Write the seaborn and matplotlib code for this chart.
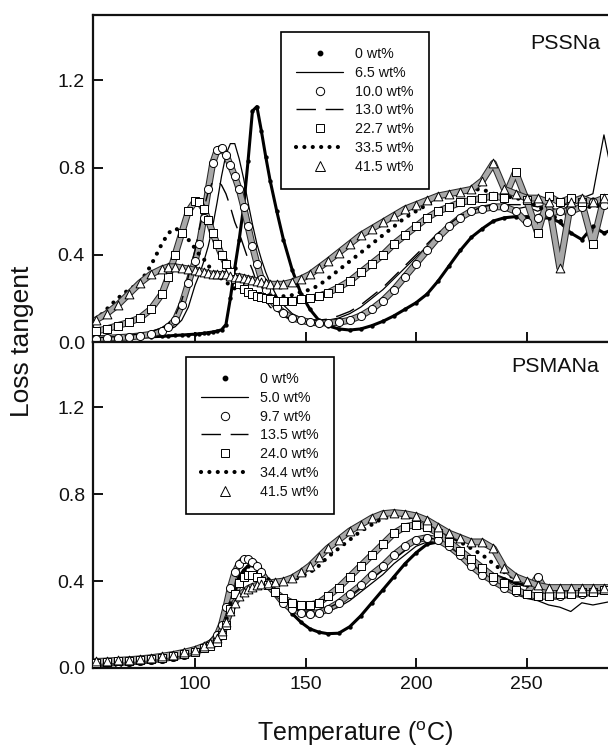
import numpy as np
import pandas as pd
import matplotlib
matplotlib.use("Agg")
import matplotlib.pyplot as plt
from matplotlib.lines import Line2D
import seaborn as sns

# ---------------- data: loss tangent vs temperature ----------------
# PSSNa panel: shared temperature grid (°C)
temp_pssna = [55, 60, 65, 70, 75, 80, 85, 88, 91, 94, 97, 100, 102, 104, 106, 108,
              110, 112, 114, 116, 118, 120, 122, 124, 126, 128, 130, 132, 134, 137,
              140, 144, 148, 152, 156, 160, 165, 170, 175, 180, 185, 190, 195, 200,
              205, 210, 215, 220, 225, 230, 235, 240, 245, 250, 255, 260, 265, 270,
              275, 280, 285, 290]

pssna_0 = [0.02, 0.02, 0.02, 0.02, 0.022, 0.024, 0.026, 0.028, 0.03, 0.032, 0.034, 0.036,
           0.038, 0.04, 0.043, 0.046, 0.05, 0.056, 0.08, 0.2, 0.34, 0.47, 0.62, 0.83, 1.06,
           1.08, 0.97, 0.85, 0.74, 0.6, 0.47, 0.33, 0.22, 0.15, 0.1, 0.075, 0.06, 0.055,
           0.06, 0.075, 0.095, 0.12, 0.15, 0.18, 0.22, 0.28, 0.35, 0.42, 0.48, 0.52, 0.555,
           0.57, 0.575, 0.575, 0.565, 0.57, 0.55, 0.5, 0.47, 0.53, 0.5, 0.52]
pssna_6_5 = [0.02, 0.02, 0.022, 0.025, 0.03, 0.035, 0.045, 0.055, 0.07, 0.1, 0.16, 0.26,
             0.31, 0.37, 0.44, 0.53, 0.64, 0.76, 0.86, 0.91, 0.91, 0.84, 0.75, 0.64, 0.54,
             0.45, 0.38, 0.32, 0.27, 0.21, 0.17, 0.13, 0.11, 0.1, 0.1, 0.1, 0.11, 0.13, 0.16,
             0.2, 0.24, 0.29, 0.34, 0.39, 0.44, 0.49, 0.53, 0.57, 0.59, 0.6, 0.61, 0.61,
             0.61, 0.62, 0.6, 0.62, 0.6, 0.63, 0.66, 0.68, 0.95, 0.7]
pssna_10_0 = [0.015, 0.017, 0.02, 0.023, 0.028, 0.035, 0.05, 0.07, 0.1, 0.17, 0.27, 0.37,
              0.45, 0.57, 0.7, 0.82, 0.88, 0.89, 0.86, 0.81, 0.76, 0.7, 0.62, 0.53, 0.44,
              0.36, 0.29, 0.24, 0.2, 0.16, 0.135, 0.11, 0.1, 0.09, 0.088, 0.088, 0.09, 0.1,
              0.12, 0.15, 0.19, 0.24, 0.3, 0.36, 0.42, 0.48, 0.53, 0.57, 0.6, 0.61, 0.62,
              0.62, 0.6, 0.55, 0.57, 0.59, 0.6, 0.6, 0.62, 0.64, 0.63, 0.62]
pssna_13_0 = [0.02, 0.022, 0.025, 0.03, 0.037, 0.047, 0.065, 0.085, 0.12, 0.19, 0.3, 0.42,
              0.52, 0.61, 0.69, 0.735, 0.74, 0.72, 0.68, 0.62, 0.55, 0.5, 0.44, 0.38, 0.33,
              0.27, 0.22, 0.19, 0.16, 0.14, 0.12, 0.105, 0.1, 0.1, 0.1, 0.105, 0.12, 0.14,
              0.17, 0.21, 0.25, 0.3, 0.35, 0.4, 0.45, 0.5, 0.54, 0.58, 0.6, 0.62, 0.63, 0.63,
              0.63, 0.63, 0.62, 0.63, 0.62, 0.64, 0.64, 0.66, 0.65, 0.64]
pssna_22_7 = [0.05, 0.06, 0.075, 0.09, 0.11, 0.15, 0.22, 0.3, 0.4, 0.5, 0.6, 0.645, 0.64,
              0.61, 0.56, 0.5, 0.45, 0.4, 0.36, 0.32, 0.29, 0.265, 0.245, 0.23, 0.22, 0.21,
              0.205, 0.2, 0.195, 0.19, 0.19, 0.19, 0.195, 0.2, 0.21, 0.225, 0.25, 0.28, 0.32,
              0.36, 0.4, 0.45, 0.49, 0.53, 0.57, 0.6, 0.62, 0.64, 0.65, 0.66, 0.67, 0.66,
              0.78, 0.65, 0.5, 0.67, 0.64, 0.66, 0.64, 0.45, 0.66, 0.64]
pssna_33_5 = [0.1, 0.15, 0.2, 0.24, 0.27, 0.35, 0.45, 0.5, 0.52, 0.51, 0.47, 0.43, 0.4,
              0.38, 0.35, 0.33, 0.31, 0.29, 0.275, 0.26, 0.245, 0.235, 0.23, 0.225, 0.22,
              0.215, 0.21, 0.21, 0.21, 0.21, 0.21, 0.215, 0.23, 0.24, 0.26, 0.29, 0.33, 0.37,
              0.41, 0.45, 0.49, 0.53, 0.57, 0.6, 0.63, 0.66, 0.68, 0.69, 0.7, 0.7, 0.68, 0.67,
              0.66, 0.65, 0.62, 0.6, 0.55, 0.6, 0.62, 0.62, 0.63, 0.63]
pssna_41_5 = [0.1, 0.13, 0.17, 0.22, 0.27, 0.31, 0.335, 0.345, 0.345, 0.34, 0.335, 0.33,
              0.325, 0.32, 0.315, 0.31, 0.31, 0.31, 0.31, 0.305, 0.3, 0.3, 0.295, 0.29,
              0.285, 0.28, 0.275, 0.27, 0.265, 0.265, 0.265, 0.275, 0.29, 0.31, 0.34, 0.37,
              0.41, 0.45, 0.49, 0.52, 0.55, 0.58, 0.61, 0.63, 0.65, 0.67, 0.68, 0.69, 0.7,
              0.74, 0.82, 0.7, 0.68, 0.66, 0.66, 0.64, 0.34, 0.64, 0.66, 0.64, 0.66, 0.65]

# PSMANa panel: shared temperature grid (°C)
temp_psmana = [55, 60, 65, 70, 75, 80, 85, 90, 95, 100, 104, 107, 110, 112, 114, 116, 118,
               120, 122, 124, 126, 128, 130, 133, 136, 140, 144, 148, 152, 156, 160, 165,
               170, 175, 180, 185, 190, 195, 200, 205, 210, 215, 220, 225, 230, 235, 240,
               245, 250, 255, 260, 265, 270, 275, 280, 285, 290]

psmana_0 = [0.02, 0.022, 0.025, 0.028, 0.032, 0.037, 0.043, 0.05, 0.06, 0.07, 0.085, 0.1,
            0.13, 0.17, 0.23, 0.3, 0.37, 0.42, 0.45, 0.47, 0.475, 0.47, 0.45, 0.41, 0.36,
            0.3, 0.25, 0.21, 0.18, 0.165, 0.158, 0.16, 0.19, 0.24, 0.3, 0.36, 0.42, 0.48,
            0.53, 0.57, 0.58, 0.57, 0.54, 0.5, 0.46, 0.43, 0.41, 0.39, 0.38, 0.375, 0.37,
            0.37, 0.365, 0.36, 0.37, 0.37, 0.37]
psmana_5_0 = [0.02, 0.022, 0.025, 0.028, 0.032, 0.037, 0.043, 0.05, 0.06, 0.07, 0.085, 0.1,
              0.13, 0.17, 0.22, 0.29, 0.35, 0.39, 0.42, 0.43, 0.43, 0.42, 0.4, 0.37, 0.34,
              0.3, 0.27, 0.25, 0.245, 0.25, 0.26, 0.28, 0.31, 0.35, 0.39, 0.43, 0.48, 0.52,
              0.56, 0.58, 0.58, 0.56, 0.52, 0.48, 0.44, 0.4, 0.37, 0.34, 0.32, 0.31, 0.29,
              0.28, 0.26, 0.3, 0.29, 0.3, 0.31]
psmana_9_7 = [0.02, 0.022, 0.025, 0.028, 0.032, 0.037, 0.043, 0.05, 0.06, 0.075, 0.09, 0.11,
              0.15, 0.2, 0.28, 0.37, 0.44, 0.48, 0.5, 0.5, 0.49, 0.47, 0.44, 0.39, 0.35, 0.3,
              0.27, 0.255, 0.25, 0.255, 0.27, 0.3, 0.34, 0.38, 0.43, 0.47, 0.52, 0.56, 0.59,
              0.6, 0.59, 0.56, 0.52, 0.47, 0.43, 0.4, 0.37, 0.35, 0.34, 0.42, 0.33, 0.33,
              0.34, 0.34, 0.35, 0.36, 0.37]
psmana_13_5 = [0.02, 0.022, 0.025, 0.028, 0.032, 0.037, 0.043, 0.05, 0.06, 0.072, 0.088,
               0.105, 0.14, 0.18, 0.24, 0.31, 0.37, 0.41, 0.43, 0.44, 0.435, 0.42, 0.4, 0.37,
               0.34, 0.3, 0.275, 0.26, 0.255, 0.26, 0.275, 0.3, 0.33, 0.37, 0.41, 0.45, 0.5,
               0.54, 0.58, 0.6, 0.59, 0.56, 0.52, 0.48, 0.44, 0.41, 0.38, 0.36, 0.34, 0.33,
               0.33, 0.33, 0.34, 0.34, 0.35, 0.35, 0.36]
psmana_24_0 = [0.025, 0.027, 0.03, 0.033, 0.037, 0.042, 0.048, 0.055, 0.065, 0.075, 0.09,
               0.1, 0.12, 0.15, 0.2, 0.27, 0.34, 0.39, 0.42, 0.43, 0.43, 0.42, 0.4, 0.38,
               0.35, 0.32, 0.3, 0.29, 0.29, 0.3, 0.33, 0.37, 0.42, 0.47, 0.52, 0.57, 0.62,
               0.65, 0.66, 0.65, 0.62, 0.58, 0.54, 0.5, 0.46, 0.42, 0.39, 0.36, 0.34, 0.33,
               0.33, 0.34, 0.34, 0.35, 0.35, 0.36, 0.36]
psmana_34_4 = [0.03, 0.032, 0.035, 0.038, 0.042, 0.047, 0.054, 0.062, 0.072, 0.085, 0.1,
               0.115, 0.14, 0.17, 0.21, 0.26, 0.3, 0.33, 0.35, 0.36, 0.37, 0.375, 0.38,
               0.385, 0.39, 0.395, 0.405, 0.42, 0.44, 0.47, 0.51, 0.55, 0.59, 0.63, 0.66,
               0.69, 0.7, 0.7, 0.69, 0.67, 0.64, 0.61, 0.58, 0.55, 0.52, 0.48, 0.44, 0.41,
               0.39, 0.38, 0.37, 0.37, 0.37, 0.37, 0.37, 0.37, 0.37]
psmana_41_5 = [0.03, 0.032, 0.035, 0.038, 0.042, 0.047, 0.054, 0.062, 0.072, 0.085, 0.1,
               0.115, 0.14, 0.17, 0.21, 0.26, 0.3, 0.33, 0.35, 0.365, 0.375, 0.38, 0.385,
               0.39, 0.395, 0.4, 0.415, 0.44, 0.47, 0.51, 0.55, 0.59, 0.63, 0.66, 0.69, 0.71,
               0.715, 0.71, 0.7, 0.68, 0.65, 0.62, 0.6, 0.58, 0.58, 0.55, 0.46, 0.42, 0.4,
               0.38, 0.37, 0.37, 0.37, 0.37, 0.37, 0.37, 0.37]

pssna_labels = ["0 wt%", "6.5 wt%", "10.0 wt%", "13.0 wt%", "22.7 wt%", "33.5 wt%", "41.5 wt%"]
psmana_labels = ["0 wt%", "5.0 wt%", "9.7 wt%", "13.5 wt%", "24.0 wt%", "34.4 wt%", "41.5 wt%"]
pssna_series = [pssna_0, pssna_6_5, pssna_10_0, pssna_13_0, pssna_22_7, pssna_33_5, pssna_41_5]
psmana_series = [psmana_0, psmana_5_0, psmana_9_7, psmana_13_5, psmana_24_0, psmana_34_4, psmana_41_5]

x_ticks = [100, 150, 200, 250]
y_ticks = [0.0, 0.4, 0.8, 1.2]

# ---------------- styling ----------------
sns.set_theme(style="ticks")
plt.rcParams["font.family"] = ["Liberation Sans", "DejaVu Sans"]
plt.rcParams["mathtext.fontset"] = "custom"
plt.rcParams["mathtext.rm"] = "Liberation Sans"
plt.rcParams["axes.linewidth"] = 1.6
plt.rcParams["axes.edgecolor"] = "#111111"
plt.rcParams["text.color"] = "#111111"

DOTTED = (0, (0.01, 2.0))
DASHED = (0, (14, 7))

# one style per composition slot: (kind, options)
styles = [
    ("dot", dict(marker="o", s=10, color="black", linewidth=0)),
    ("line", dict(color="black", linewidth=0.9, linestyle="-")),
    ("mark", dict(marker="o", s=34)),
    ("line", dict(color="black", linewidth=1.0, linestyle=DASHED)),
    ("mark", dict(marker="s", s=34)),
    ("line", dict(color="black", linewidth=3.0, linestyle=DOTTED,
                  dash_capstyle="round")),
    ("mark", dict(marker="^", s=40)),
]

legend_handles = [
    Line2D([], [], ls="none", marker="o", ms=3.2, color="black"),
    Line2D([], [], ls="-", lw=0.9, color="black"),
    Line2D([], [], ls="none", marker="o", ms=6, mfc="white", mec="black", mew=0.7),
    Line2D([], [], ls=DASHED, lw=1.0, color="black"),
    Line2D([], [], ls="none", marker="s", ms=6, mfc="white", mec="black", mew=0.7),
    Line2D([], [], ls=DOTTED, lw=3.0, color="black", dash_capstyle="round"),
    Line2D([], [], ls="none", marker="^", ms=6.5, mfc="white", mec="black", mew=0.7),
]

W, H = 608, 748
fig = plt.figure(figsize=(W / 100, H / 100), dpi=100)
ax_left = 93.3 / W
ax_width = (615 - 93.3) / W
ax_top = fig.add_axes([ax_left, (H - 342) / H, ax_width, 327 / H])
ax_bot = fig.add_axes([ax_left, (H - 668) / H, ax_width, 326 / H], sharex=ax_top)


def draw_panel(ax, temps, series, labels):
    frames = []
    for lab, vals in zip(labels, series):
        frames.append(pd.DataFrame({"temperature": temps, "tan_delta": vals, "content": lab}))
    df = pd.concat(frames, ignore_index=True)
    for lab, (kind, opts) in zip(labels, styles):
        sub = df[df["content"] == lab]
        if kind == "line":
            sns.lineplot(data=sub, x="temperature", y="tan_delta", ax=ax,
                         legend=False, estimator=None, sort=True, **opts)
        elif kind == "dot":
            # closely spaced filled dots read as a heavy black trace
            sns.lineplot(data=sub, x="temperature", y="tan_delta", ax=ax,
                         legend=False, estimator=None, color="black", linewidth=2.2)
            sns.scatterplot(data=sub, x="temperature", y="tan_delta", ax=ax,
                            legend=False, zorder=3, **opts)
        else:
            # overlapping open symbols form a grey hatched band with dark rims
            sns.lineplot(data=sub, x="temperature", y="tan_delta", ax=ax,
                         legend=False, estimator=None, color="#2a2a2a", linewidth=5.0,
                         solid_capstyle="round")
            sns.lineplot(data=sub, x="temperature", y="tan_delta", ax=ax,
                         legend=False, estimator=None, color="#a8a8a8", linewidth=3.5,
                         solid_capstyle="round")
            sns.scatterplot(data=sub, x="temperature", y="tan_delta", ax=ax,
                            legend=False, color="white", edgecolor="black",
                            linewidth=0.7, zorder=3, **opts)


draw_panel(ax_top, temp_pssna, pssna_series, pssna_labels)
draw_panel(ax_bot, temp_psmana, psmana_series, psmana_labels)

for ax in (ax_top, ax_bot):
    ax.set_xlim(54, 290)
    ax.set_ylim(0, 1.5)
    ax.set_yticks(y_ticks)
    ax.set_yticklabels([f"{t:.1f}" for t in y_ticks])
    ax.set_xticks(x_ticks)
    ax.tick_params(direction="in", length=7, width=1.4, labelsize=14, pad=6,
                   colors="#111111", top=False, right=False)
    ax.set_xlabel("")
    ax.set_ylabel("")
    for side in ("top", "right", "left", "bottom"):
        ax.spines[side].set_visible(True)

ax_top.tick_params(labelbottom=False)
ax_bot.set_xticklabels([str(t) for t in x_ticks])

ax_top.text(283.3, 1.37, "PSSNa", fontsize=15.4, ha="right", va="center")
ax_bot.text(283.0, 1.385, "PSMANa", fontsize=15.4, ha="right", va="center")

fig.text(22 / W, 1 - 341 / H, "Loss tangent", rotation=90, fontsize=19,
         ha="center", va="center")
fig.text(355 / W, 1 - 734 / H, "Temperature ($\\mathrm{^{o}}$C)", fontsize=18,
         ha="center", va="center")

leg_kw = dict(frameon=True, fancybox=False, shadow=False, fontsize=10.3,
              handlelength=3.3, handletextpad=0.85, labelspacing=0.335,
              borderpad=1.05, borderaxespad=0, edgecolor="black", framealpha=1)
leg1 = ax_top.legend(legend_handles, pssna_labels, loc="upper left",
                     bbox_to_anchor=(281 / W, 1 - 32 / H),
                     bbox_transform=fig.transFigure, **leg_kw)
leg1.get_frame().set_linewidth(1.2)
leg2 = ax_bot.legend(legend_handles, psmana_labels, loc="upper left",
                     bbox_to_anchor=(186 / W, 1 - 357 / H),
                     bbox_transform=fig.transFigure, **leg_kw)
leg2.get_frame().set_linewidth(1.2)

fig.savefig("out.png", dpi=100)
